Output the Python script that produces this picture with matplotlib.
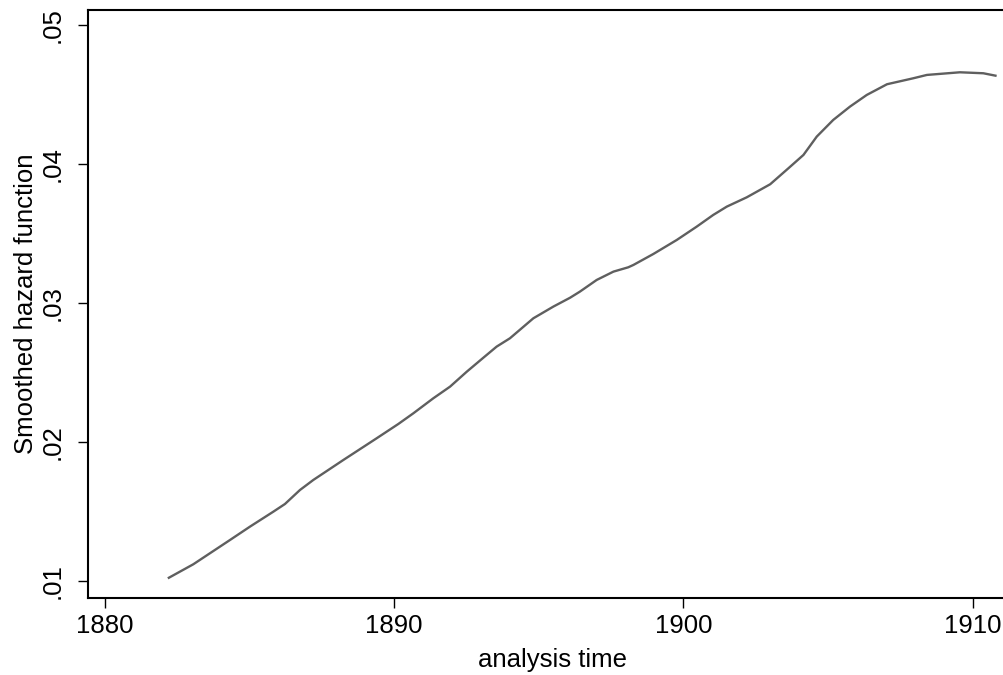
import matplotlib
matplotlib.use("Agg")
import matplotlib.pyplot as plt

# Data
time = [1882.17, 1883.05, 1884.32, 1885.01, 1885.82, 1886.22, 1886.74, 1887.20,
        1888.24, 1889.39, 1890.14, 1890.66, 1891.35, 1891.93, 1892.51, 1893.08,
        1893.54, 1894.00, 1894.81, 1895.50, 1896.08, 1896.42, 1897.00, 1897.58,
        1898.09, 1898.27, 1898.96, 1899.77, 1900.46, 1901.03, 1901.50, 1902.19,
        1903.00, 1903.63, 1904.15, 1904.61, 1905.18, 1905.76, 1906.34, 1907.04,
        1907.95, 1908.42, 1909.56, 1910.37, 1910.83]
hazard = [0.01017, 0.01118, 0.01293, 0.01389, 0.01497, 0.01552, 0.01653, 0.01725,
          0.01869, 0.02025, 0.02128, 0.02205, 0.02313, 0.02397, 0.02505, 0.02605,
          0.02685, 0.02745, 0.02889, 0.02973, 0.03037, 0.03081, 0.03165, 0.03225,
          0.03256, 0.03273, 0.03352, 0.03453, 0.03549, 0.03633, 0.03693, 0.03760,
          0.03854, 0.03969, 0.04065, 0.04197, 0.04317, 0.04413, 0.04497, 0.04574,
          0.04617, 0.04641, 0.04660, 0.04653, 0.04634]

xticks = [1880, 1890, 1900, 1910]
xtick_labels = ["1880", "1890", "1900", "1910"]
yticks = [0.01, 0.02, 0.03, 0.04, 0.05]
ytick_labels = [".01", ".02", ".03", ".04", ".05"]

plt.rcParams['font.family'] = ['Liberation Sans', 'DejaVu Sans']

W, H = 1004, 675
fig = plt.figure(figsize=(W / 100, H / 100), dpi=100)
left, right, bottom, top = 88, 1016, 597.5, 9.5
ax = fig.add_axes([left / W, (H - bottom) / H, (right - left) / W, (bottom - top) / H])

ax.plot(time, hazard, color='#5f5f5f', linewidth=1.7, solid_capstyle='butt',
        solid_joinstyle='round')

ax.set_xlim(1879.41, 1911.50)
ax.set_ylim(0.00879, 0.05112)
ax.set_xticks(xticks)
ax.set_xticklabels(xtick_labels)
ax.set_yticks(yticks)
ax.set_yticklabels(ytick_labels, rotation=90, va='center')

for s in ['left', 'bottom', 'top']:
    ax.spines[s].set_linewidth(1.5)
    ax.spines[s].set_color('black')
ax.spines['right'].set_visible(False)

FS = 18.5
ax.tick_params(axis='both', length=7, width=1.0, labelsize=FS, color='black')
ax.tick_params(axis='x', pad=5)
ax.tick_params(axis='y', pad=10)

ax.set_xlabel('analysis time', fontsize=FS, labelpad=7)
ax.set_ylabel('Smoothed hazard function', fontsize=FS, labelpad=2)

fig.savefig('out.png', dpi=100)
